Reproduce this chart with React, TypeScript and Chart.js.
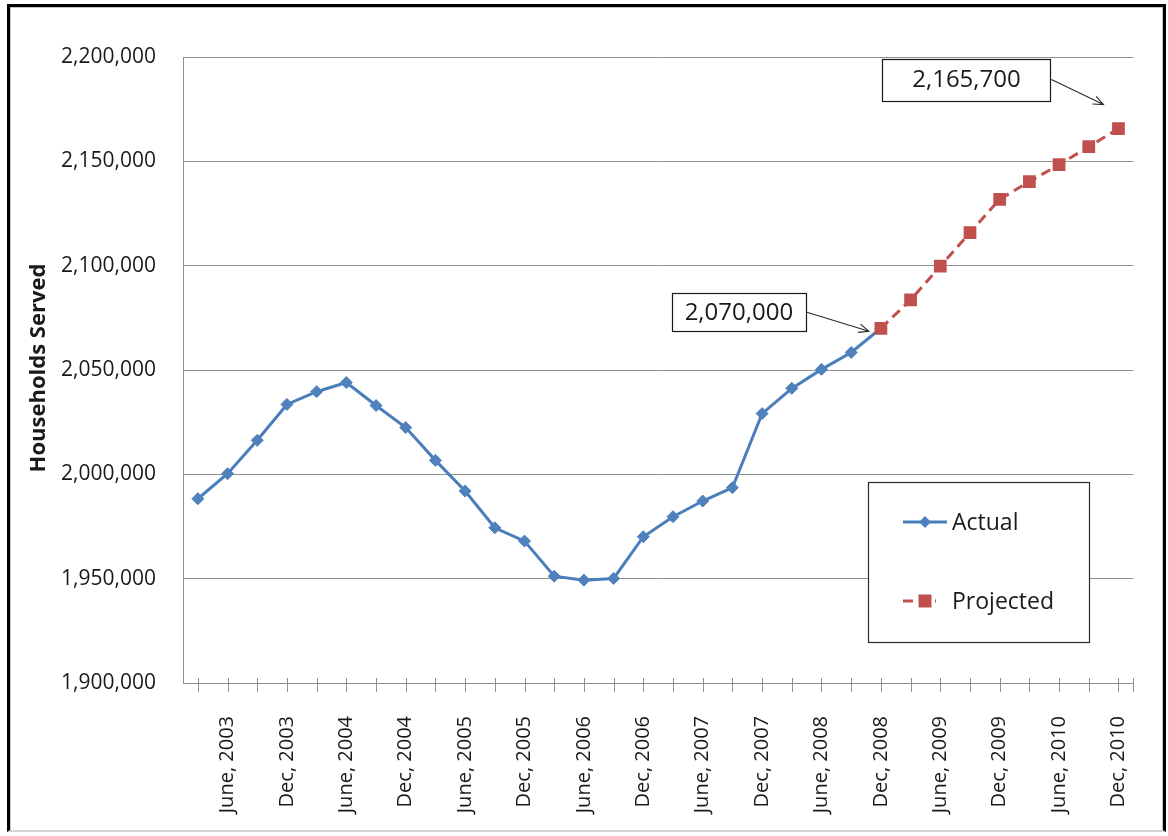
import { useEffect, useRef } from "react";
import { Chart, registerables } from "chart.js";

Chart.register(...registerables);

// Quarterly reporting periods, March 2003 through December 2010
const quarterLabels = [
  "Mar, 2003", "June, 2003", "Sept, 2003", "Dec, 2003",
  "Mar, 2004", "June, 2004", "Sept, 2004", "Dec, 2004",
  "Mar, 2005", "June, 2005", "Sept, 2005", "Dec, 2005",
  "Mar, 2006", "June, 2006", "Sept, 2006", "Dec, 2006",
  "Mar, 2007", "June, 2007", "Sept, 2007", "Dec, 2007",
  "Mar, 2008", "June, 2008", "Sept, 2008", "Dec, 2008",
  "Mar, 2009", "June, 2009", "Sept, 2009", "Dec, 2009",
  "Mar, 2010", "June, 2010", "Sept, 2010", "Dec, 2010",
];

// Households served, Mar 2003 – Dec 2008
const actualHouseholds = [
  1988300, 2000300, 2016300, 2033500,
  2039600, 2044000, 2033000, 2022400,
  2006700, 1992000, 1974400, 1968000,
  1951200, 1949300, 1950100, 1970100,
  1979700, 1987200, 1993600, 2029100,
  2041200, 2050300, 2058400, 2070000,
];

// Projection, Dec 2008 – Dec 2010
const projectedHouseholds = [
  2070000, 2083600, 2099800, 2115800, 2131800,
  2140300, 2148400, 2157000, 2165700,
];
const projectionStartIndex = 23; // Dec, 2008

const yMin = 1900000;
const yMax = 2200000;
const yStep = 50000;

const FONT = '"Open Sans", "DejaVu Sans", sans-serif';
const GRID = "#8f8f8f";
const TEXT = "#1a1a1a";
const BLUE_LINE = "#4A7EBB";
const BLUE_MARK = "#4F81BD";
const RED = "#C0504D";

const actualSeries: (number | null)[] = quarterLabels.map((_, i) =>
  i < actualHouseholds.length ? actualHouseholds[i] : null
);
const projectedSeries: (number | null)[] = quarterLabels.map((_, i) =>
  i >= projectionStartIndex ? projectedHouseholds[i - projectionStartIndex] : null
);

const fmt = (v: number) => Math.round(v).toLocaleString("en-US");

// Short cross tick marks on the category axis, one per quarter plus the axis end
const quarterTicksPlugin = {
  id: "quarterTicks",
  afterDraw(chart: any) {
    const { ctx, chartArea, scales } = chart;
    const xs = scales.x;
    const y = chartArea.bottom;
    ctx.save();
    ctx.strokeStyle = GRID;
    ctx.lineWidth = 1;
    ctx.beginPath();
    const marks: number[] = quarterLabels.map((_, i) => xs.getPixelForValue(i));
    marks.push(chartArea.right);
    marks.forEach((x) => {
      const px = Math.round(x) + 0.5;
      ctx.moveTo(px, y - 5);
      ctx.lineTo(px, y + 9);
    });
    ctx.stroke();
    ctx.restore();
  },
};

// Rotated value-axis title
const axisTitlePlugin = {
  id: "axisTitle",
  afterDraw(chart: any, _args: any, opts: any) {
    const { ctx } = chart;
    ctx.save();
    ctx.translate(opts.x, opts.y);
    ctx.rotate(-Math.PI / 2);
    ctx.font = `bold ${opts.size}px ${FONT}`;
    ctx.fillStyle = TEXT;
    ctx.textAlign = "center";
    ctx.textBaseline = "middle";
    ctx.fillText(opts.text, 0, 0);
    ctx.restore();
  },
};

// Boxed legend inside the plot area
const boxLegendPlugin = {
  id: "boxLegend",
  afterDraw(chart: any, _args: any, opts: any) {
    const { ctx } = chart;
    const { x, y, w, h, rows, sampleX0, sampleX1, textX } = opts;
    ctx.save();
    ctx.fillStyle = "#ffffff";
    ctx.fillRect(x, y, w, h);
    ctx.strokeStyle = "#2b2b2b";
    ctx.lineWidth = 1.2;
    ctx.strokeRect(x + 0.5, y + 0.5, w, h);

    chart.data.datasets.forEach((ds: any, i: number) => {
      const ry = rows[i];
      const mid = (sampleX0 + sampleX1) / 2;
      ctx.save();
      ctx.strokeStyle = ds.borderColor;
      ctx.lineWidth = ds.borderWidth;
      if (ds.borderDash) {
        ctx.setLineDash(ds.borderDash);
        ctx.beginPath();
        ctx.moveTo(sampleX0, ry);
        ctx.lineTo(mid + 11, ry);
        ctx.stroke();
      } else {
        ctx.beginPath();
        ctx.moveTo(sampleX0, ry);
        ctx.lineTo(sampleX1, ry);
        ctx.stroke();
      }
      ctx.restore();
      ctx.save();
      ctx.fillStyle = ds.pointBackgroundColor;
      ctx.beginPath();
      if (ds.pointStyle === "rect") {
        const s = 6.5;
        ctx.rect(mid - s, ry - s, 2 * s, 2 * s);
      } else {
        const r = 6;
        ctx.moveTo(mid, ry - r);
        ctx.lineTo(mid + r, ry);
        ctx.lineTo(mid, ry + r);
        ctx.lineTo(mid - r, ry);
        ctx.closePath();
      }
      ctx.fill();
      ctx.restore();

      ctx.fillStyle = TEXT;
      ctx.font = `${opts.size}px ${FONT}`;
      ctx.textAlign = "left";
      ctx.textBaseline = "middle";
      ctx.fillText(ds.label, textX, ry + 1);
    });
    ctx.restore();
  },
};

// Value callouts with arrows pointing at chosen points
const calloutPlugin = {
  id: "callouts",
  afterDraw(chart: any, _args: any, opts: any) {
    const { ctx } = chart;
    opts.items.forEach((c: any) => {
      const meta = chart.getDatasetMeta(c.dataset);
      const pt = meta.data[c.index];
      const value = chart.data.datasets[c.dataset].data[c.index];
      if (!pt || value == null) return;
      const bx1 = pt.x + c.boxRight;
      const bx0 = bx1 - c.boxWidth;
      const bcy = pt.y + c.boxCenterY;
      const by0 = bcy - c.boxHeight / 2;

      ctx.save();
      ctx.fillStyle = "#ffffff";
      ctx.fillRect(bx0, by0, c.boxWidth, c.boxHeight);
      ctx.strokeStyle = "#1a1a1a";
      ctx.lineWidth = 1.2;
      ctx.strokeRect(Math.round(bx0) + 0.5, Math.round(by0) + 0.5, c.boxWidth, c.boxHeight);

      ctx.fillStyle = TEXT;
      ctx.font = `${opts.size}px ${FONT}`;
      ctx.textAlign = "center";
      ctx.textBaseline = "middle";
      ctx.fillText(fmt(value as number), bx0 + c.boxWidth / 2, bcy + 1);

      const sx = bx1 + 1;
      const sy = bcy;
      const tx = pt.x + c.tipDx;
      const ty = pt.y + c.tipDy;
      const ang = Math.atan2(ty - sy, tx - sx);
      const head = 11;
      const spread = 0.4;
      ctx.strokeStyle = "#2a2a2a";
      ctx.lineWidth = 1.1;
      ctx.beginPath();
      ctx.moveTo(sx, sy);
      ctx.lineTo(tx, ty);
      ctx.moveTo(tx - head * Math.cos(ang - spread), ty - head * Math.sin(ang - spread));
      ctx.lineTo(tx, ty);
      ctx.lineTo(tx - head * Math.cos(ang + spread), ty - head * Math.sin(ang + spread));
      ctx.stroke();
      ctx.restore();
    });
  },
};

export default function App() {
  const canvasRef = useRef<HTMLCanvasElement | null>(null);

  useEffect(() => {
    const canvas = canvasRef.current;
    if (!canvas) return;
    let chart: Chart | null = null;
    let cancelled = false;

    const build = () => {
      if (cancelled) return;
      chart = new Chart(canvas, {
        type: "line",
        data: {
          labels: quarterLabels,
          datasets: [
            {
              label: "Actual",
              data: actualSeries,
              borderColor: BLUE_LINE,
              backgroundColor: BLUE_MARK,
              borderWidth: 3,
              pointStyle: "rectRot",
              pointRadius: 6,
              pointBorderWidth: 1,
              pointBorderColor: BLUE_MARK,
              pointBackgroundColor: BLUE_MARK,
              tension: 0,
              order: 2,
            },
            {
              label: "Projected",
              data: projectedSeries,
              borderColor: RED,
              backgroundColor: RED,
              borderWidth: 3,
              borderDash: [10, 6],
              pointStyle: "rect",
              pointRadius: 9,
              pointBorderWidth: 0,
              pointBorderColor: RED,
              pointBackgroundColor: RED,
              tension: 0,
              order: 1,
            },
          ],
        },
        options: {
          responsive: false,
          animation: false,
          events: [],
          layout: { padding: { left: 0, right: 34, top: 57, bottom: 0 } },
          scales: {
            x: {
              type: "category",
              offset: true,
              grid: { display: false },
              border: { display: true, color: GRID, width: 1 },
              ticks: {
                autoSkip: false,
                minRotation: 90,
                maxRotation: 90,
                padding: 25,
                color: TEXT,
                font: { family: FONT, size: 20 },
                callback: (_v: any, i: number) => (i % 2 === 1 ? quarterLabels[i] : ""),
              },
              afterFit: (s: any) => {
                s.height = 153;
              },
            },
            y: {
              min: yMin,
              max: yMax,
              grid: { color: GRID, lineWidth: 1, drawTicks: false },
              border: { display: true, color: GRID, width: 1 },
              ticks: {
                stepSize: yStep,
                padding: 27,
                color: TEXT,
                font: { family: FONT, size: 21 },
                callback: (v: any) => fmt(Number(v)),
              },
              afterFit: (s: any) => {
                s.width = 183;
              },
            },
          },
          plugins: {
            legend: { display: false },
            tooltip: { enabled: false },
            axisTitle: { text: "Households Served", x: 39, y: 368, size: 22 },
            boxLegend: {
              x: 868,
              y: 482,
              w: 221,
              h: 160,
              rows: [522, 601],
              sampleX0: 903,
              sampleX1: 947,
              textX: 952,
              size: 23,
            },
            callouts: {
              size: 24,
              items: [
                { dataset: 1, index: 31, boxRight: -68, boxCenterY: -49, boxWidth: 168, boxHeight: 42, tipDx: -15, tipDy: -24 },
                { dataset: 1, index: 23, boxRight: -75, boxCenterY: -16, boxWidth: 134, boxHeight: 38, tipDx: -12, tipDy: 3 },
              ],
            },
          } as any,
        },
        plugins: [quarterTicksPlugin, axisTitlePlugin, boxLegendPlugin, calloutPlugin],
      });
    };

    const fonts = (document as any).fonts;
    if (fonts && fonts.load) {
      Promise.all([
        fonts.load(`20px "Open Sans"`),
        fonts.load(`bold 22px "Open Sans"`),
      ]).then(build, build);
    } else {
      build();
    }

    return () => {
      cancelled = true;
      if (chart) chart.destroy();
    };
  }, []);

  return (
    <div
      style={{
        position: "fixed",
        left: 0,
        top: 0,
        width: 1168,
        height: 836,
        background: "#ffffff",
        overflow: "hidden",
      }}
    >
      <div
        style={{
          position: "absolute",
          left: 7,
          top: 4,
          width: 1159,
          height: 828,
          boxSizing: "border-box",
          borderTop: "3px solid #000",
          borderLeft: "3px solid #000",
          borderRight: "3px solid #000",
          borderBottom: "2px solid #d4d4d4",
          boxShadow: "inset 1px 1px 0 0 #c4c4c4, inset -1px 0 0 0 #c4c4c4",
        }}
      />
      <canvas
        ref={canvasRef}
        width={1168}
        height={836}
        style={{ position: "absolute", left: 0, top: 0, width: 1168, height: 836 }}
      />
    </div>
  );
}
